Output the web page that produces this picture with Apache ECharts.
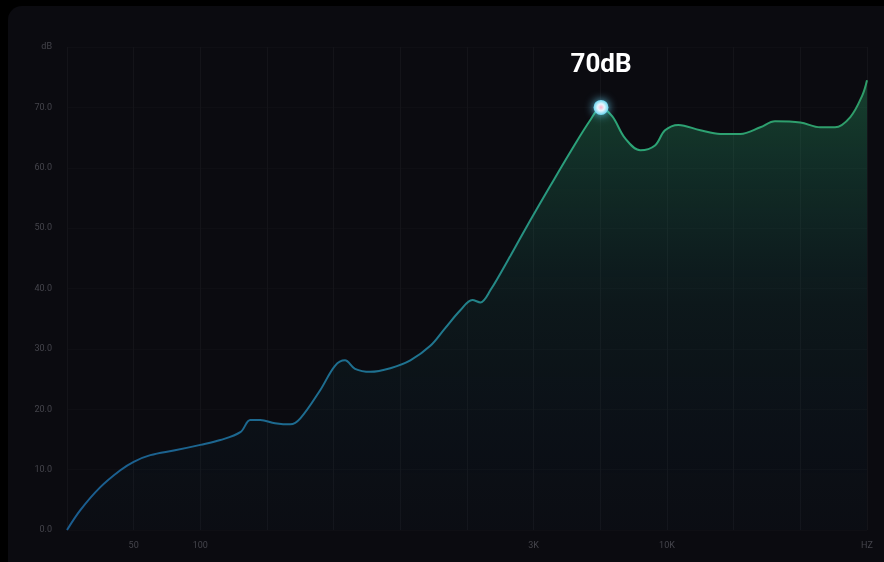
<!DOCTYPE html>
<html>
<head>
<meta charset="utf-8">
<script src="https://cdn.jsdelivr.net/npm/echarts@6/dist/echarts.min.js"></script>
<style>
  html, body { margin: 0; padding: 0; background: #000; width: 884px; height: 562px; overflow: hidden; }
  #panel { position: absolute; left: 8px; top: 6px; width: 900px; height: 600px; background: #0b0b10; border-radius: 14px; }
  #chart { position: absolute; left: 0; top: 0; width: 884px; height: 562px; }
</style>
</head>
<body>
<div id="panel"></div>
<div id="chart"></div>
<script>
// x positions are tick slots (0..12) on the frequency axis
const xTickLabels = ['', '50', '100', '', '', '', '', '3K', '', '10K', '', '', 'HZ'];
const yTickLabels = ['0.0', '10.0', '20.0', '30.0', '40.0', '50.0', '60.0', '70.0', 'dB'];

const freqPos = [0, 0.2, 0.5, 0.8, 1.0, 1.25, 1.62, 2.0, 2.3, 2.6, 2.75, 2.9, 3.12, 3.35, 3.5, 3.8, 4.02, 4.17, 4.32, 4.55, 4.85, 5.15, 5.45, 5.67, 5.9, 6.08, 6.2, 6.35, 6.65, 6.95, 7.25, 7.55, 7.85, 8.01, 8.18, 8.37, 8.6, 8.82, 8.97, 9.17, 9.5, 9.8, 10.1, 10.4, 10.62, 11.0, 11.3, 11.52, 11.75, 11.93, 12.0];
const levelDb = [0, 3.3, 7.1, 9.9, 11.3, 12.4, 13.2, 14.1, 14.9, 16.2, 18.2, 18.2, 17.7, 17.5, 18.5, 23.2, 27.2, 28.1, 26.7, 26.2, 26.8, 28.1, 30.5, 33.4, 36.4, 38.1, 37.7, 39.7, 45.4, 51.3, 57.0, 62.6, 67.9, 70.0, 68.5, 64.9, 62.9, 63.7, 66.2, 67.1, 66.2, 65.6, 65.6, 66.7, 67.7, 67.5, 66.7, 66.7, 68.4, 72.0, 74.5];
const peakLabel = '70dB';

const seriesData = freqPos.map((x, i) => [x, levelDb[i]]);
const peakIdx = levelDb.indexOf(70.0);

const chart = echarts.init(document.getElementById('chart'), null, { renderer: 'canvas' });
chart.setOption({
  backgroundColor: 'transparent',
  animation: false,
  grid: { left: 67, right: 17, top: 47, bottom: 32 },
  xAxis: {
    type: 'value', min: 0, max: 12, interval: 1,
    axisLine: { show: false }, axisTick: { show: false },
    splitLine: { show: true, lineStyle: { color: '#141419', width: 1 } },
    axisLabel: {
      color: '#45454c', fontSize: 9, margin: 11, fontFamily: 'Roboto',
      formatter: v => xTickLabels[Math.round(v)] || ''
    }
  },
  yAxis: {
    type: 'value', min: 0, max: 80, interval: 10,
    axisLine: { show: false }, axisTick: { show: false },
    splitLine: { show: true, lineStyle: { color: '#0f0f14', width: 1 } },
    axisLabel: {
      color: '#45454c', fontSize: 9, margin: 15, fontFamily: 'Roboto',
      formatter: v => yTickLabels[Math.round(v / 10)]
    }
  },
  series: [{
    type: 'line',
    data: seriesData,
    smooth: 0.35,
    symbol: 'none',
    lineStyle: {
      width: 2,
      color: new echarts.graphic.LinearGradient(0, 0, 1, 0, [
        { offset: 0, color: '#1a5c8f' },
        { offset: 0.45, color: '#1f7490' },
        { offset: 0.65, color: '#2ca578' },
        { offset: 1, color: '#2f9d69' }
      ])
    },
    areaStyle: {
      color: new echarts.graphic.LinearGradient(0, 0, 0, 1, [
        { offset: 0, color: 'rgba(40,150,95,0.55)' },
        { offset: 0.5, color: 'rgba(25,95,90,0.22)' },
        { offset: 1, color: 'rgba(15,45,75,0.10)' }
      ])
    },
    markPoint: {
      symbol: 'circle',
      symbolSize: 15,
      data: [{ coord: seriesData[peakIdx] }],
      itemStyle: {
        color: new echarts.graphic.RadialGradient(0.5, 0.5, 0.5, [
          { offset: 0, color: '#ffb3cf' },
          { offset: 0.45, color: '#e6f7ff' },
          { offset: 1, color: '#6ad3ee' }
        ]),
        shadowBlur: 10,
        shadowColor: 'rgba(110,220,255,0.9)'
      },
      label: {
        show: true, position: 'top', distance: 21,
        formatter: peakLabel,
        color: '#ffffff', fontSize: 26, fontWeight: 'bold', fontFamily: 'Roboto'
      }
    }
  }]
});
</script>
</body>
</html>
